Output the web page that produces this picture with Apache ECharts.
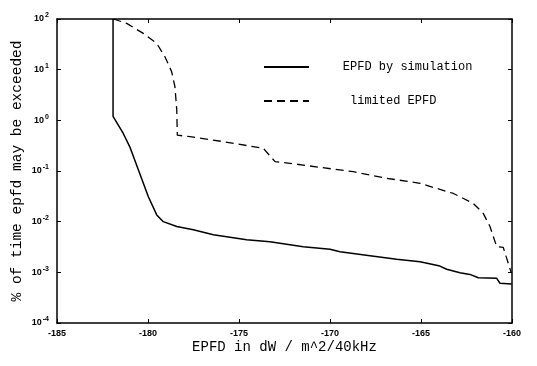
<!DOCTYPE html>
<html>
<head>
<meta charset="utf-8">
<script src="https://cdn.jsdelivr.net/npm/echarts@6/dist/echarts.min.js"></script>
<style>
  html, body { margin: 0; padding: 0; background: #fff; }
  #chart { width: 537px; height: 366px; }
</style>
</head>
<body>
<div id="chart"></div>
<script>
// EPFD by simulation (solid)
const simX = [-181.92, -181.92, -181.36, -181.0, -179.98, -179.52, -179.16, -178.42, -177.51, -176.41,
  -174.58, -173.3, -171.47, -170.0, -169.45, -167.8, -166.34, -165.05, -163.96, -163.59,
  -162.86, -162.31, -161.85, -160.84, -160.66, -160.02]
const simY = [100, 1.2, 0.55, 0.30, 0.031, 0.0136, 0.010, 0.0080, 0.0069, 0.0055,
  0.0044, 0.0040, 0.0032, 0.00285, 0.00256, 0.00213, 0.00181, 0.00162, 0.00133, 0.00115,
  0.00098, 0.00091, 0.00078, 0.00076, 0.00061, 0.00059]

// limited EPFD (dashed)
const limX = [-181.9, -181.17, -180.26, -179.52, -179.07, -178.7, -178.52, -178.42, -178.39, -177.69,
  -175.86, -173.66, -173.02, -172.2, -170.55, -168.72, -166.89, -165.05, -163.22, -162.13,
  -161.58, -161.21, -160.84, -160.48, -160.05]
const limY = [100, 82, 52, 33, 18, 9.1, 4.6, 1.6, 0.51, 0.475,
  0.38, 0.28, 0.153, 0.142, 0.118, 0.097, 0.072, 0.057, 0.036, 0.023,
  0.0146, 0.008, 0.0032, 0.0031, 0.0010]

const seriesNames = ['EPFD by simulation', 'limited EPFD']
const yExponents = ['-4', '-3', '-2', '-1', '0', '1', '2']
const xTickLabels = ['-185', '-180', '-175', '-170', '-165', '-160']

const zip = (xs, ys) => xs.map((x, i) => [x, ys[i]])

const myChart = echarts.init(document.getElementById('chart'))

const mono = '"Liberation Mono", "DejaVu Sans Mono", monospace'
const sans = '"Liberation Sans", Arial, sans-serif'

const option = {
  backgroundColor: '#fff',
  animation: false,
  grid: { left: 57, right: 25, top: 19, bottom: 43 },
  legend: {
    show: true,
    orient: 'vertical',
    left: 263,
    top: 61,
    padding: 0,
    itemWidth: 45,
    itemHeight: 12,
    itemGap: 22,
    itemStyle: { opacity: 0 }, // 只显示线，不显示圆点
    textStyle: { fontFamily: mono, fontSize: 12, color: '#000' },
    // 图例文字与线之间留出较大间距
    formatter: (name) => (name === seriesNames[0] ? '    ' : '     ') + name,
    data: seriesNames
  },
  xAxis: [
    {
      type: 'value',
      min: -185,
      max: -160,
      interval: 5,
      name: 'EPFD in dW / m^2/40kHz',
      nameLocation: 'middle',
      nameGap: 17,
      nameMoveOverlap: false,
      nameTextStyle: { fontFamily: mono, fontSize: 14, color: '#000', verticalAlign: 'top' },
      axisLine: { lineStyle: { color: '#000', width: 1.5 } },
      axisTick: { inside: true, length: 4, lineStyle: { color: '#000' } },
      axisLabel: {
        margin: 6,
        fontFamily: sans,
        fontSize: 9,
        fontWeight: 'bold',
        color: '#000',
        formatter: (v) => xTickLabels[Math.round((v + 185) / 5)]
      },
      splitLine: { show: false }
    },
    {
      type: 'value',
      position: 'top',
      min: -185,
      max: -160,
      interval: 5,
      axisLine: { lineStyle: { color: '#000', width: 1.5 } },
      axisTick: { inside: true, length: 4, lineStyle: { color: '#000' } },
      axisLabel: { show: false },
      splitLine: { show: false }
    }
  ],
  yAxis: [
    {
      type: 'log',
      logBase: 10,
      min: 1e-4,
      max: 1e2,
      name: '% of time epfd may be exceeded',
      nameLocation: 'middle',
      nameGap: 32,
      nameMoveOverlap: false,
      nameRotate: 90,
      nameTextStyle: { fontFamily: mono, fontSize: 14.5, color: '#000' },
      axisLine: { show: true, lineStyle: { color: '#000', width: 1.5 } },
      axisTick: { inside: true, length: 4, lineStyle: { color: '#000' } },
      axisLabel: {
        margin: 8,
        color: '#000',
        formatter: (v) => {
          const e = yExponents[Math.round(Math.log10(v)) + 4]
          return '{b|10}{s|' + e + '}'
        },
        rich: {
          b: { fontFamily: sans, fontSize: 9, fontWeight: 'bold', color: '#000' },
          s: { fontFamily: sans, fontSize: 7, fontWeight: 'bold', color: '#000', padding: [0, 0, 7, 1] }
        }
      },
      splitLine: { show: false }
    },
    {
      type: 'log',
      logBase: 10,
      min: 1e-4,
      max: 1e2,
      position: 'right',
      axisLine: { show: true, lineStyle: { color: '#000', width: 1.5 } },
      axisTick: { inside: true, length: 4, lineStyle: { color: '#000' } },
      axisLabel: { show: false },
      splitLine: { show: false }
    }
  ],
  series: [
    {
      name: seriesNames[0],
      type: 'line',
      data: zip(simX, simY),
      showSymbol: false,
      symbol: 'none',
      lineStyle: { color: '#000', width: 1.5 },
      itemStyle: { color: '#000' }
    },
    {
      name: seriesNames[1],
      type: 'line',
      data: zip(limX, limY),
      showSymbol: false,
      symbol: 'none',
      lineStyle: { color: '#000', width: 1.3, type: [8, 5] },
      itemStyle: { color: '#000' }
    }
  ]
}
myChart.setOption(option)
window.addEventListener('resize', function () {
  myChart.resize()
})
</script>
</body>
</html>
